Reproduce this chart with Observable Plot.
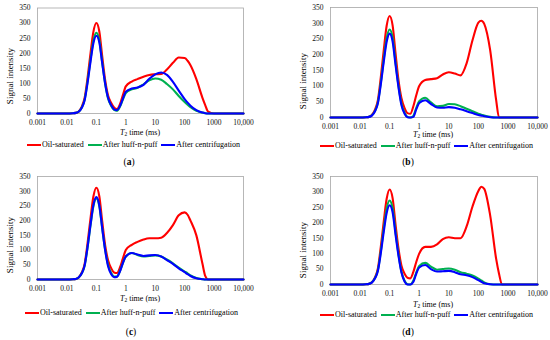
<!DOCTYPE html>
<html><head><meta charset="utf-8">
<script src="https://cdn.jsdelivr.net/npm/d3@7"></script>
<script src="https://cdn.jsdelivr.net/npm/@observablehq/plot@0.6"></script>
<style>
body{margin:0;background:#fff;}
#root{position:relative;width:550px;height:340px;font-family:"Liberation Serif","Times New Roman",serif;color:#000;overflow:hidden;background:#fff}
.svgwrap{position:absolute}
.xl{position:absolute;font-size:8px;transform:translate(-50%,-50%);white-space:nowrap;line-height:1}
.xl sub{font-size:5.5px;vertical-align:-1.5px}
.yl{position:absolute;font-size:9px;transform:translate(-50%,-50%) rotate(-90deg);white-space:nowrap;line-height:1}
.lg{position:absolute;font-size:8px;display:flex;align-items:center;white-space:nowrap;transform:translateY(-50%);line-height:1}
.sw{display:inline-block;width:14px;height:2.4px;margin-right:1px}
.it{display:flex;align-items:center;margin-right:4px}
.pl{position:absolute;font-size:9.5px;transform:translate(-50%,-50%);line-height:1}
</style></head><body><div id="root"></div><script>
// T2 relaxation times (ms)
const T2 = [0.001, 0.01, 0.016, 0.02, 0.025, 0.032, 0.04, 0.05, 0.063, 0.079, 0.1, 0.126, 0.158, 0.2, 0.25, 0.32, 0.4, 0.5, 0.63, 0.79, 1, 1.6, 2.5, 4, 6.3, 10, 16, 25, 40, 63, 100, 126, 158, 250, 400, 500, 630, 1000, 10000];
const seriesNames = ["Oil-saturated", "After huff-n-puff", "After centrifugation"];
const seriesColors = ["#ff0000", "#00b050", "#0000ff"];
const xTicks = [0.001, 0.01, 0.1, 1, 10, 100, 1000, 10000];
const xTickLabels = ["0.001", "0.01", "0.1", "1", "10", "100", "1000", "10,000"];
const yTicks = [0, 50, 100, 150, 200, 250, 300, 350];
const panelLabels = ["a", "b", "c", "d"];

// Panel (a)
const aOil  = [0,0,1,2,7,23,52,117,198,270,300, 272,190,110,60,35,20,15,30,60,90, 106,114,122,128,130,131,146,168,186,184,175,160,114,53,28,6,0,0];
const aHuff = [0,0,1,2,6,20,46,105,177,241,268, 243,170,98,50,25,12,9,22,45,68, 80,85,97,110,116,112,98,80,58,38,29,21,9,3,1,0,0,0];
const aCent = [0,0,1,2,6,19,44,100,170,232,258, 236,167,98,52,27,14,11,24,48,72, 83,86,95,115,130,136,128,105,76,48,36,26,11,3,1,0,0,0];
// Panel (b)
const bOil  = [0,0,1,2,8,25,55,126,213,291,323, 293,205,118,62,30,14,12,35,70,100, 119,122,125,137,144,140,134,172,245,302,308,298,215,55,0,0,0,0];
const bHuff = [0,0,1,2,7,21,48,109,185,252,280, 254,176,100,45,15,2,0,5,30,52, 63,48,36,37,43,42,36,28,20,12,9,6,2,0,0,0,0,0];
const bCent = [0,0,1,2,6,20,45,104,176,240,267, 242,168,95,40,12,1,0,2,25,46, 55,43,32,31,33,31,26,20,14,8,6,4,1,0,0,0,0,0];
// Panel (c)
const cOil  = [0,0,1,2,7,24,53,122,206,281,312, 283,198,115,65,38,24,22,40,70,100, 118,128,136,140,140,142,158,185,218,228,220,200,150,55,12,0,0,0];
const cHuff = [0,0,1,2,7,21,47,107,182,248,275, 249,174,100,50,22,10,10,28,55,78, 90,83,78,80,82,78,68,55,40,27,21,14,5,1,0,0,0,0];
const cCent = [0,0,1,2,7,21,48,109,185,252,280, 252,175,98,45,18,8,9,27,55,78, 90,85,80,82,83,78,66,53,38,25,18,12,4,1,0,0,0,0];
// Panel (d)
const dOil  = [0,0,1,2,7,23,52,120,203,277,308, 280,195,115,62,35,22,20,40,72,100, 122,122,130,147,153,150,150,188,252,303,317,310,225,83,35,0,0,0];
const dHuff = [0,0,1,2,7,21,46,106,180,245,272, 247,171,97,42,12,1,0,12,38,60, 70,58,48,50,52,48,40,35,29,19,13,7,1,0,0,0,0,0];
const dCent = [0,0,1,2,6,20,44,100,170,231,257, 234,162,92,40,10,0,0,8,34,55, 63,50,42,43,44,40,33,30,24,14,9,4,1,0,0,0,0,0];

const panelData = [[aOil, aHuff, aCent], [bOil, bHuff, bCent], [cOil, cHuff, cCent], [dOil, dHuff, dCent]];

// layout of each panel (pixels)
const layout = [
  {left: 0,   top: 0,   w: 275, h: 140, mt: 7.5, mb: 27, ml: 37, mr: 32, xl: [140, 133], yl: [10, 76],  lg: [27, 145],  pl: [129, 163]},
  {left: 275, top: 0,   w: 275, h: 140, mt: 7,   mb: 23, ml: 55, mr: 13, xl: [433, 135], yl: [303, 81], lg: [320, 146], pl: [408, 163]},
  {left: 0,   top: 170, w: 275, h: 130, mt: 6,   mb: 21, ml: 37, mr: 32, xl: [140, 299], yl: [10, 245], lg: [25, 313],  pl: [131, 333]},
  {left: 275, top: 170, w: 275, h: 130, mt: 6,   mb: 16, ml: 55, mr: 13, xl: [433, 305], yl: [303, 250], lg: [320, 315], pl: [408, 333]}
];

const root = document.getElementById("root");

function el(tag, cls, html, x, y) {
  const e = document.createElement(tag);
  if (cls) e.className = cls;
  if (html != null) e.innerHTML = html;
  if (x != null) { e.style.left = x + "px"; e.style.top = y + "px"; }
  root.appendChild(e);
  return e;
}

panelData.forEach((series, p) => {
  const L = layout[p];
  const rows = [];
  series.forEach((vals, s) => {
    vals.forEach((v, i) => rows.push({T2: T2[i], v, s: seriesNames[s]}));
  });
  const chart = Plot.plot({
    width: L.w, height: L.h,
    marginTop: L.mt, marginBottom: L.mb, marginLeft: L.ml, marginRight: L.mr,
    style: {fontFamily: "'Liberation Serif', 'Times New Roman', serif", fontSize: "7.5px", background: "transparent", color: "#111"},
    x: {type: "log", domain: [0.001, 10000], ticks: xTicks, tickFormat: d => xTickLabels[xTicks.indexOf(d)], tickSize: 0, tickPadding: 6, label: null},
    y: {domain: [0, 350], ticks: yTicks, tickSize: 0, tickPadding: 7, label: null},
    color: {domain: seriesNames, range: seriesColors},
    marks: [
      Plot.frame({stroke: "#a6a6a6", strokeWidth: 0.8}),
      Plot.line(rows, {x: "T2", y: "v", z: "s", stroke: "s", strokeWidth: 2.1, curve: "monotone-x"})
    ]
  });
  const wrap = el("div", "svgwrap", null, L.left, L.top);
  wrap.appendChild(chart);

  el("div", "xl", "<i>T</i><sub>2</sub> time (ms)", L.xl[0], L.xl[1]);
  el("div", "yl", "Signal intensity", L.yl[0], L.yl[1]);
  const lg = el("div", "lg", null, L.lg[0], L.lg[1]);
  seriesNames.forEach((n, s) => {
    const it = document.createElement("span");
    it.className = "it";
    it.innerHTML = `<span class="sw" style="background:${seriesColors[s]}"></span><span>${n}</span>`;
    lg.appendChild(it);
  });
  el("div", "pl", `(<b>${panelLabels[p]}</b>)`, L.pl[0], L.pl[1]);
});
</script></body></html>
